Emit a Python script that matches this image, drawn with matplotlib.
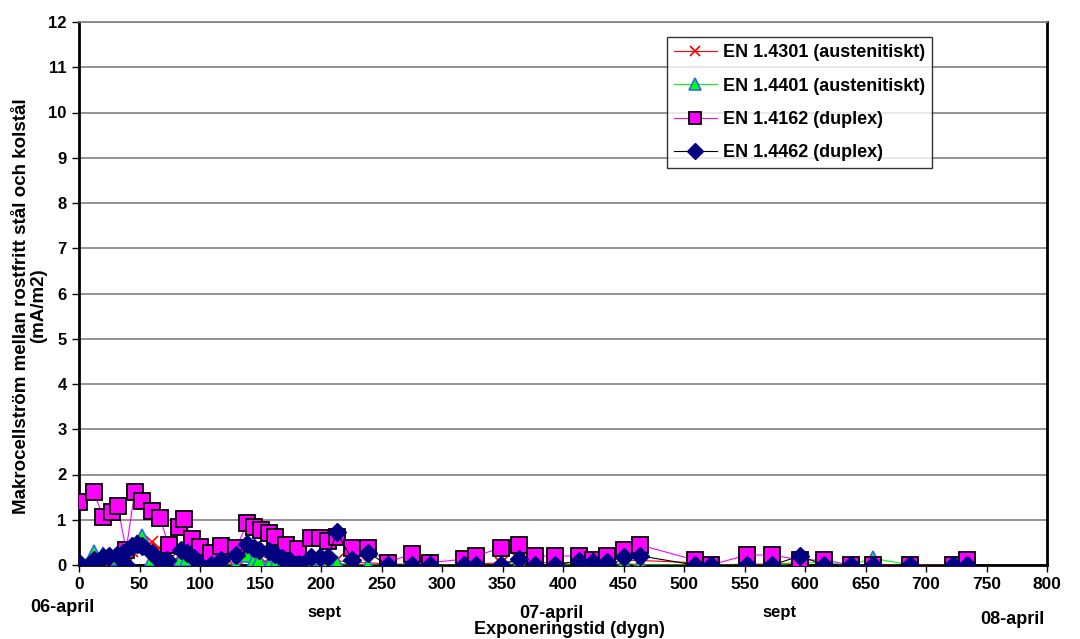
import matplotlib
matplotlib.use('Agg')
import matplotlib.pyplot as plt
import numpy as np

plt.rcParams['font.family'] = ['Liberation Sans', 'DejaVu Sans']
plt.rcParams['font.weight'] = 'bold'

# mätdagar (dygn) för EN 1.4301, EN 1.4401 och EN 1.4462
days = [0, 12, 20, 25, 31, 36, 39, 44, 48, 52,
        60, 66, 73, 84, 89, 95, 100, 109, 117, 130,
        139, 145, 149, 157, 162, 168, 174, 182, 192, 199,
        206, 213, 226, 239, 255, 275, 290, 318, 328, 349,
        364, 377, 393, 413, 425, 436, 450, 464, 509, 522,
        552, 573, 596, 616, 638, 656, 687, 722, 734]

en4301 = [0, 0.02, 0, 0.05, 0.1, 0.12, 0, 0.3, 0.35, 0.45,
          0.5, 0.38, 0.3, 0.25, 0.2, 0.1, 0, 0.05, 0.1, 0.15,
          0.3, 0.2, 0.2, 0.15, 0.1, 0.1, 0.05, 0.1, 0.1, 0.05,
          0.05, 0.1, 0.05, 0.05, 0.02, 0.02, 0, 0, 0.02, 0.05,
          0.1, 0.05, 0.05, 0.05, 0.05, 0.05, 0.1, 0.1, 0.05, 0,
          0.02, 0.02, 0.05, -0.1, 0, 0, 0, 0, 0]

en4401 = [0, 0.28, 0.25, 0.2, 0.15, 0.2, 0, 0.45, 0.5, 0.65,
          0.13, 0, 0, 0.13, 0.13, 0.05, 0, 0, 0, 0,
          0.22, 0.11, 0.11, 0, 0, 0, 0, 0, 0, 0,
          0.05, 0.05, 0, 0, 0, 0, 0, 0, 0, 0,
          0.05, 0, 0, 0, 0, 0, 0.05, 0, 0, 0,
          0, 0, 0.05, 0.05, 0, 0.15, 0, 0, 0]

en4462 = [0.05, 0.12, 0.18, 0.2, 0.22, 0.27, 0, 0.42, 0.47, 0.42,
          0.27, 0.11, 0.11, 0.33, 0.27, 0.15, 0, 0, 0.11, 0.22,
          0.47, 0.38, 0.33, 0.31, 0.24, 0.15, 0.09, 0.02, 0.18, 0.18,
          0.18, 0.72, 0.11, 0.27, 0, 0, 0, 0, 0, 0,
          0.13, 0, 0, 0.09, 0.07, 0.07, 0.18, 0.2, 0, 0,
          0, 0, 0.2, 0, 0, 0, 0, 0, 0]

# EN 1.4162 har egna mätdagar
days_4162 = [0, 12, 20, 27, 32, 39, 46, 52, 60, 67,
             74, 83, 87, 93, 100, 109, 117, 130, 139, 145,
             150, 157, 162, 171, 181, 192, 199, 206, 213, 226,
             239, 255, 275, 290, 318, 328, 349, 364, 377, 393,
             413, 425, 436, 450, 464, 509, 522, 552, 573, 596,
             616, 638, 656, 687, 722, 734]
en4162 = [1.4, 1.62, 1.07, 1.17, 1.3, 0.33, 1.62, 1.42, 1.2, 1.04,
          0.44, 0.84, 1.02, 0.57, 0.4, 0.27, 0.42, 0.38, 0.93, 0.84,
          0.77, 0.71, 0.62, 0.44, 0.35, 0.6, 0.6, 0.53, 0.62, 0.38,
          0.38, 0.05, 0.25, 0.05, 0.13, 0.2, 0.38, 0.44, 0.2, 0.2,
          0.2, 0.11, 0.2, 0.33, 0.44, 0.11, 0, 0.22, 0.22, 0.11,
          0.11, 0, 0, 0, 0, 0.11]

xticks = list(range(0, 801, 50))
yticks = list(range(0, 13))

fig = plt.figure(figsize=(10.8, 6.39), dpi=100)
ax = fig.add_axes([79/1080, 1 - 565/639, 968/1080, 543/639])

ax.plot(days, en4301, color='red', lw=0.8, marker='x', ms=9, mew=1.2,
        mec='red', label='EN 1.4301 (austenitiskt)', zorder=3)
ax.plot(days, en4401, color='#00ff00', lw=0.8, marker='^', ms=10, mew=1.2,
        mfc='#00ff00', mec='#3366ff', label='EN 1.4401 (austenitiskt)', zorder=4)
ax.plot(days_4162, en4162, color='magenta', lw=0.8, marker='s', ms=11, mew=1.3,
        mfc='magenta', mec='black', label='EN 1.4162 (duplex)', zorder=5)
ax.plot(days, en4462, color='black', lw=0.8, marker='D', ms=9, mew=1,
        mfc='#000080', mec='#000080', label='EN 1.4462 (duplex)', zorder=6)

ax.set_xlim(0, 800)
ax.set_ylim(0, 12)
ax.set_xticks(xticks)
ax.set_yticks(yticks)
ax.tick_params(axis='x', labelsize=12.5, length=5, width=1, direction='out')
ax.tick_params(axis='y', labelsize=12, length=5, width=1, direction='out', pad=4)
ax.grid(axis='y', color='#808080', lw=1.2)
ax.set_axisbelow(True)
for side in ['left', 'bottom', 'right']:
    ax.spines[side].set_linewidth(2)
ax.spines['top'].set_linewidth(1.2)
ax.spines['top'].set_color('#808080')
for t in ax.get_xticklabels() + ax.get_yticklabels():
    t.set_fontweight('bold')

fig.text(30/1080, 1 - 306/639, 'Makrocellström mellan rostfritt stål och kolstål\n(mA/m2)',
         rotation=90, ha='center', va='center', fontsize=13.5, fontweight='bold',
         linespacing=1.0, multialignment='center')

fig.text(62/1080, 1 - 607/639, '06-april', ha='center', va='center', fontsize=13, fontweight='bold')
fig.text(325/1080, 1 - 613/639, 'sept', ha='center', va='center', fontsize=12, fontweight='bold')
fig.text(551/1080, 1 - 614/639, '07-april', ha='center', va='center', fontsize=13, fontweight='bold')
fig.text(780/1080, 1 - 613/639, 'sept', ha='center', va='center', fontsize=12, fontweight='bold')
fig.text(1012/1080, 1 - 620/639, '08-april', ha='center', va='center', fontsize=13, fontweight='bold')
fig.text(569/1080, 1 - 630/639, 'Exponeringstid (dygn)', ha='center', va='center', fontsize=13, fontweight='bold')

leg = ax.legend(loc='upper left', bbox_to_anchor=(0.607, 0.972), frameon=True,
                fancybox=False, edgecolor='black', prop={'weight': 'bold', 'size': 13},
                handlelength=2.4, borderpad=0.4, labelspacing=0.9, handletextpad=0.3,
                borderaxespad=0, markerscale=0.85)
leg.get_frame().set_linewidth(1)

fig.savefig('out.png', dpi=100)
